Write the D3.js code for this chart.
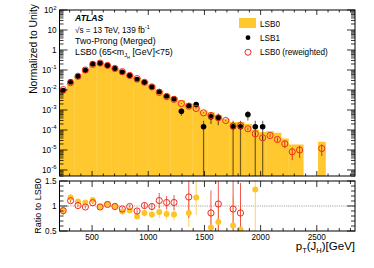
<!DOCTYPE html>
<html>
<head>
<meta charset="utf-8">
<script src="https://cdn.jsdelivr.net/npm/d3@7/dist/d3.min.js"></script>
<style>
body { margin: 0; background: #fff; }
text { font-family: "Liberation Sans", Arial, Helvetica, sans-serif; fill: #000; }
</style>
</head>
<body>
<svg id="chart" width="374" height="268"></svg>
<script>
// binning of pT(J_H)
var xMin = 210, xMax = 2840, binWidth = 65.75;

// LSB0 histogram (normalized), 40 bins
var lsb0 = [0.01026, 0.02198, 0.04498, 0.09141, 0.1824, 0.2208, 0.1671, 0.1189, 0.0873, 0.0583,
            0.0424, 0.0286, 0.0170, 0.00957, 0.00597, 0.00438, 0.00309, 0.00209, 0.00151, 0.000944,
            0.000759, 0.000562, 0.000363, 0.000251, 0.000251, 0.000204, 0.000105, 0.000079, 0.0000871, 0.0000724,
            0.0000376, 0.0000188, 0.0000188, 0, 0, 0.0000257, 0, 0, 0, 0];

// LSB1 points
var lsb1 = [0.00944, 0.0257, 0.0490, 0.0977, 0.204, 0.219, 0.174, 0.119, 0.0776, 0.0531,
            0.0335, 0.0245, 0.0141, 0.00841, 0.00501, 0.00363, 0.000871, 0.00168, 0.00188, 0.000145,
            0.000457, 0.000422, null, 0.000145, 0.000145, 0.000596, 0.000145, 0.000145, null, null,
            null, null, null, null, null, null, null, null, null, null];
var lsb1Err = [0.0003, 0.0005, 0.0008, 0.0012, 0.0017, 0.0018, 0.0016, 0.0013, 0.0011, 0.0009,
               0.0007, 0.0006, 0.0005, 0.0004, 0.0003, 0.00025, 0.00036, 0.00049, 0.00052, 0.000145,
               0.00026, 0.00025, 0, 0.000145, 0.000145, 0.0003, 0.000145, 0.000145, 0, 0,
               0, 0, 0, 0, 0, 0, 0, 0, 0, 0];

// LSB0 reweighted points
var lsb0rw = [0.0105, 0.0232, 0.0485, 0.0998, 0.191, 0.223, 0.169, 0.120, 0.0826, 0.0536,
              0.0372, 0.0243, 0.0143, 0.00759, 0.00469, 0.0034, 0.00211, 0.00155, 0.00119, 0.000724,
              0.000531, 0.000407, 0.000298, 0.000155, 0.000168, 0.000115, 0.0000646, 0.0000407, 0.000053, 0.0000335,
              0.0000204, 0.0000081, 0.00001, null, null, 0.0000119, null, null, null, null];
var lsb0rwErr = [0.0002, 0.0004, 0.0006, 0.001, 0.0015, 0.0016, 0.0014, 0.0011, 0.0009, 0.0007,
                 0.0006, 0.0004, 0.0003, 0.0002, 0.00015, 0.00012, 0.0001, 0.00008, 0.00007, 0.00005,
                 0.00004, 0.00003, 0.00003, 0.00002, 0.00002, 0.00002, 0.00001, 0.000009, 0.000009, 0.000008,
                 0.000008, 0.000005, 0.000006, 0, 0, 0.000007, 0, 0, 0, 0];

// ratio panel: LSB1 / LSB0 and LSB1 / LSB0 (reweighted)
var ratioLsb0 = [0.92, 1.17, 1.09, 1.07, 1.12, 0.99, 1.04, 1.0, 0.89, 0.91,
                 0.79, 0.86, 0.83, 0.88, 0.84, 0.83, null, 0.86, 1.17, null,
                 0.57, 0.68, null, 0.61, 0.53, null, 1.33];
var ratioLsb0Err = [0.06, 0.07, 0.04, 0.03, 0.03, 0.03, 0.03, 0.03, 0.04, 0.05,
                    0.06, 0.07, 0.08, 0.12, 0.11, 0.12, 0, 0.28, 0.35, 0,
                    0.3, 0.35, 0, 0.6, 0.53, 0, 1.33];
var ratioRw = [0.906, 1.106, 1.01, 0.98, 1.066, 0.98, 1.03, 0.99, 0.94, 0.99,
               0.90, 1.01, 0.99, 1.11, 1.07, 1.07, null, 1.18, null, null,
               0.86, 1.04, null, 0.94, 0.86];
var ratioRwErr = [0.08, 0.04, 0.03, 0.03, 0.03, 0.03, 0.03, 0.03, 0.04, 0.04,
                  0.05, 0.06, 0.07, 0.15, 0.13, 0.15, 0, 0.42, 0, 0,
                  0.45, 0.6, 0, 0.6, 0.6];

var xTickValues = [500, 1000, 1500, 2000, 2500];
var yPowers = [-6, -5, -4, -3, -2, -1, 0, 1, 2];
var ratioTickValues = [0.5, 1, 1.5];

var yellow = "#fec82e", red = "#ee2c20";

var svg = d3.select("#chart");

var main = {left: 59.5, right: 355, top: 10, bottom: 176};
var rat = {top: 181, bottom: 231};

var x = d3.scaleLinear().domain([xMin, xMax]).range([main.left, main.right]);
var y = d3.scaleLog().domain([5e-7, 100]).range([main.bottom, main.top]);
var yr = d3.scaleLinear().domain([0.5, 1.5]).range([rat.bottom, rat.top]);

function center(i) { return xMin + (i + 0.5) * binWidth; }

var defs = svg.append("defs");
defs.append("clipPath").attr("id", "clipMain").append("rect")
    .attr("x", main.left).attr("y", main.top)
    .attr("width", main.right - main.left).attr("height", main.bottom - main.top);
defs.append("clipPath").attr("id", "clipRatio").append("rect")
    .attr("x", main.left).attr("y", rat.top)
    .attr("width", main.right - main.left).attr("height", rat.bottom - rat.top);

// ---- main pad ----
var gm = svg.append("g").attr("clip-path", "url(#clipMain)");

gm.selectAll("rect.bar")
    .data(lsb0.map(function(v, i) { return {v: v, i: i}; }).filter(function(d) { return d.v > 0; }))
    .enter().append("rect")
    .attr("class", "bar")
    .attr("x", function(d) { return x(xMin + d.i * binWidth); })
    .attr("width", function(d) { return x(xMin + (d.i + 1) * binWidth) - x(xMin + d.i * binWidth) + 0.3; })
    .attr("y", function(d) { return y(d.v); })
    .attr("height", function(d) { return main.bottom - y(d.v); })
    .attr("fill", yellow);

function logErrY(v, e) {
    var lo = v - e;
    return lo > 0 ? y(lo) : main.bottom + 2;
}

var blackPts = lsb1.map(function(v, i) { return {v: v, e: lsb1Err[i], i: i}; })
    .filter(function(d) { return d.v; });
var redPts = lsb0rw.map(function(v, i) { return {v: v, e: lsb0rwErr[i], i: i}; })
    .filter(function(d) { return d.v; });

// red error bars
gm.selectAll("line.rerr").data(redPts).enter().append("line")
    .attr("x1", function(d) { return x(center(d.i)); })
    .attr("x2", function(d) { return x(center(d.i)); })
    .attr("y1", function(d) { return y(d.v + d.e); })
    .attr("y2", function(d) { return logErrY(d.v, d.e); })
    .attr("stroke", red).attr("stroke-width", 1);

// black error bars
gm.selectAll("line.berr").data(blackPts).enter().append("line")
    .attr("x1", function(d) { return x(center(d.i)); })
    .attr("x2", function(d) { return x(center(d.i)); })
    .attr("y1", function(d) { return y(d.v + d.e); })
    .attr("y2", function(d) { return logErrY(d.v, d.e); })
    .attr("stroke", "#000").attr("stroke-opacity", 0.55).attr("stroke-width", 1.2);

gm.selectAll("circle.lsb1").data(blackPts).enter().append("circle")
    .attr("cx", function(d) { return x(center(d.i)); })
    .attr("cy", function(d) { return y(d.v); })
    .attr("r", 2.8).attr("fill", "#000");

gm.selectAll("circle.rw").data(redPts).enter().append("circle")
    .attr("cx", function(d) { return x(center(d.i)); })
    .attr("cy", function(d) { return y(d.v); })
    .attr("r", 3.1).attr("fill", "none").attr("stroke", red).attr("stroke-width", 1);

// ---- ratio pad ----
var gr = svg.append("g").attr("clip-path", "url(#clipRatio)");

gr.append("line")
    .attr("x1", main.left).attr("x2", main.right)
    .attr("y1", yr(1)).attr("y2", yr(1))
    .attr("stroke", "#777").attr("stroke-width", 0.8).attr("stroke-dasharray", "1,1.2");

var ratY = ratioLsb0.map(function(v, i) { return {v: v, e: ratioLsb0Err[i], i: i}; })
    .filter(function(d) { return d.v != null; });
var ratR = ratioRw.map(function(v, i) { return {v: v, e: ratioRwErr[i], i: i}; })
    .filter(function(d) { return d.v != null; });

gr.selectAll("line.yerr").data(ratY).enter().append("line")
    .attr("x1", function(d) { return x(center(d.i)); })
    .attr("x2", function(d) { return x(center(d.i)); })
    .attr("y1", function(d) { return yr(d.v + d.e); })
    .attr("y2", function(d) { return yr(d.v - d.e); })
    .attr("stroke", "#fcd460").attr("stroke-width", 1);
gr.selectAll("line.rerr").data(ratR).enter().append("line")
    .attr("x1", function(d) { return x(center(d.i)); })
    .attr("x2", function(d) { return x(center(d.i)); })
    .attr("y1", function(d) { return yr(d.v + d.e); })
    .attr("y2", function(d) { return yr(d.v - d.e); })
    .attr("stroke", "#ef3b30").attr("stroke-opacity", 0.85).attr("stroke-width", 1);

gr.selectAll("circle.ry").data(ratY).enter().append("circle")
    .attr("cx", function(d) { return x(center(d.i)); })
    .attr("cy", function(d) { return yr(d.v); })
    .attr("r", 3).attr("fill", "#fdc42c");
gr.selectAll("circle.rr").data(ratR).enter().append("circle")
    .attr("cx", function(d) { return x(center(d.i)); })
    .attr("cy", function(d) { return yr(d.v); })
    .attr("r", 3.1).attr("fill", "none").attr("stroke", red).attr("stroke-width", 1);

// ---- frames and ticks ----
function frame(top, bottom) {
    svg.append("rect")
        .attr("x", main.left).attr("y", top)
        .attr("width", main.right - main.left).attr("height", bottom - top)
        .attr("fill", "none").attr("stroke", "#000").attr("stroke-width", 1);
}
frame(main.top, main.bottom);
frame(rat.top, rat.bottom);

var ticks = svg.append("g").attr("stroke", "#000").attr("stroke-width", 0.8);

function xTicks(top, bottom, majLen, minLen) {
    for (var v = 300; v < xMax; v += 100) {
        var len = (v % 500 === 0) ? majLen : minLen;
        ticks.append("line").attr("x1", x(v)).attr("x2", x(v)).attr("y1", bottom).attr("y2", bottom - len);
        ticks.append("line").attr("x1", x(v)).attr("x2", x(v)).attr("y1", top).attr("y2", top + len);
    }
}
xTicks(main.top, main.bottom, 5, 2.5);
xTicks(rat.top, rat.bottom, 6, 3);

// log y ticks
yPowers.forEach(function(p) {
    var v = Math.pow(10, p);
    ticks.append("line").attr("x1", main.left).attr("x2", main.left + 8).attr("y1", y(v)).attr("y2", y(v));
    ticks.append("line").attr("x1", main.right).attr("x2", main.right - 8).attr("y1", y(v)).attr("y2", y(v));
});
for (var p = -7; p <= 1; p++) {
    for (var k = 2; k <= 9; k++) {
        var v = k * Math.pow(10, p);
        if (v < 5e-7 || v > 100) continue;
        ticks.append("line").attr("x1", main.left).attr("x2", main.left + 4).attr("y1", y(v)).attr("y2", y(v));
        ticks.append("line").attr("x1", main.right).attr("x2", main.right - 4).attr("y1", y(v)).attr("y2", y(v));
    }
}
// ratio y ticks
d3.range(5, 16).forEach(function(k) {
    var v = k / 10;
    var len = (k % 5 === 0) ? 8 : 4;
    ticks.append("line").attr("x1", main.left).attr("x2", main.left + len).attr("y1", yr(v)).attr("y2", yr(v));
    ticks.append("line").attr("x1", main.right).attr("x2", main.right - len).attr("y1", yr(v)).attr("y2", yr(v));
});

// ---- labels ----
var fs = 8.2;
yPowers.forEach(function(p) {
    var t = svg.append("text")
        .attr("x", main.left - 3).attr("y", y(Math.pow(10, p)) + 3)
        .attr("text-anchor", "end").attr("font-size", fs);
    if (p === 0) { t.text("1"); }
    else if (p === 1) { t.text("10"); }
    else {
        t.append("tspan").text("10");
        t.append("tspan").attr("dy", -3.5).attr("font-size", 6).text(p);
    }
});

ratioTickValues.forEach(function(v) {
    svg.append("text")
        .attr("x", main.left - 3).attr("y", yr(v) + 3)
        .attr("text-anchor", "end").attr("font-size", fs)
        .text(v);
});

xTickValues.forEach(function(v) {
    svg.append("text")
        .attr("x", x(v)).attr("y", 239.5)
        .attr("text-anchor", "middle").attr("font-size", fs)
        .text(v);
});

// axis titles
svg.append("text")
    .attr("transform", "translate(36.5,4) rotate(-90)")
    .attr("text-anchor", "end").attr("font-size", 10.3)
    .text("Normalized to Unity");
svg.append("text")
    .attr("transform", "translate(41,206) rotate(-90)")
    .attr("text-anchor", "middle").attr("font-size", 9)
    .text("Ratio to LSB0");

var xt = svg.append("text")
    .attr("x", main.right).attr("y", 250)
    .attr("text-anchor", "end").attr("font-size", 11.5);
xt.append("tspan").text("p");
xt.append("tspan").attr("dy", 2.5).attr("font-size", 7.5).text("T");
xt.append("tspan").attr("dy", -2.5).text("(J");
xt.append("tspan").attr("dy", 2.5).attr("font-size", 7.5).text("H");
xt.append("tspan").attr("dy", -2.5).text(")[GeV]");

// ATLAS labels
var lx = 75;
svg.append("text").attr("x", lx).attr("y", 20.5)
    .attr("font-size", 8.7).attr("font-weight", "bold").attr("font-style", "italic")
    .text("ATLAS");
var l2 = svg.append("text").attr("x", lx).attr("y", 32.5).attr("font-size", 8.2);
l2.append("tspan").text("\u221As = 13 TeV,  139 fb");
l2.append("tspan").attr("dy", -3.2).attr("font-size", 5.5).text("-1");
svg.append("text").attr("x", lx).attr("y", 44).attr("font-size", 8.8)
    .text("Two-Prong (Merged)");
var l4 = svg.append("text").attr("x", lx).attr("y", 54.5).attr("font-size", 8.8);
l4.append("tspan").text("LSB0 (65<m");
l4.append("tspan").attr("dy", 2.5).attr("font-size", 5.8).text("J");
l4.append("tspan").attr("dy", 1.5).attr("font-size", 4).text("H");
l4.append("tspan").attr("dy", -4).text(" [GeV]<75)");

// legend
var leg = svg.append("g");
leg.append("rect").attr("x", 239).attr("y", 18).attr("width", 17).attr("height", 10).attr("fill", yellow);
leg.append("text").attr("x", 260).attr("y", 26.5).attr("font-size", 8.2).text("LSB0");
leg.append("circle").attr("cx", 248).attr("cy", 37.7).attr("r", 2.4).attr("fill", "#000");
leg.append("text").attr("x", 260).attr("y", 40.5).attr("font-size", 8.2).text("LSB1");
leg.append("circle").attr("cx", 248).attr("cy", 52.3).attr("r", 3).attr("fill", "none")
    .attr("stroke", red).attr("stroke-width", 1);
leg.append("text").attr("x", 260).attr("y", 55).attr("font-size", 8.2).text("LSB0 (reweighted)");
</script>
</body>
</html>
